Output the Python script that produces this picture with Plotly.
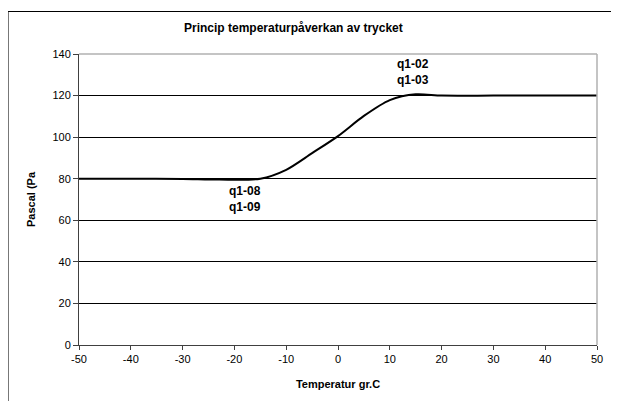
import plotly.graph_objects as go

# Data
temperature = [-50, -40, -30, -23, -15, -10, -5, 0, 5, 10, 15, 20, 30, 40, 50]
pascal = [80, 80, 79.9, 79.6, 80, 84.3, 92.3, 100.5, 110.2, 117.8, 120.6, 120, 120, 120, 120]

label_texts = ["q1-08<br>q1-09", "q1-02<br>q1-03"]
label_x = [-18, 14.5]
label_y = [80, 120]
label_anchor = ["top", "bottom"]
label_shift = [-3, 7]

x_ticks = [-50, -40, -30, -20, -10, 0, 10, 20, 30, 40, 50]
x_tick_labels = ["-50", "-40", "-30", "-20", "-10", "0", "10", "20", "30", "40", "50"]
y_ticks = [0, 20, 40, 60, 80, 100, 120, 140]

title_text = "Princip temperaturpåverkan av trycket"
x_title = "Temperatur gr.C"
y_title = "Pascal (Pa"

FONT = "Liberation Sans, Arial, sans-serif"

fig = go.Figure()
fig.add_trace(go.Scatter(
    x=temperature, y=pascal, mode="lines",
    line=dict(color="black", width=2, shape="spline", smoothing=0.8),
    hoverinfo="skip", showlegend=False,
))

for t, x, y, a, s in zip(label_texts, label_x, label_y, label_anchor, label_shift):
    fig.add_annotation(x=x, y=y, text="<b>" + t + "</b>", showarrow=False,
                       xanchor="center", yanchor=a, yshift=s,
                       font=dict(family=FONT, size=12, color="black"))

fig.add_annotation(xref="paper", yref="paper", x=0.415, y=1.0, yshift=26,
                   text="<b>" + title_text + "</b>", showarrow=False,
                   xanchor="center", yanchor="middle",
                   font=dict(family=FONT, size=12, color="black"))

# plot-area top/right border (gray)
fig.add_shape(type="line", xref="paper", yref="paper", x0=0, x1=1, y0=1, y1=1,
              line=dict(color="#b0b0b0", width=1.5))
fig.add_shape(type="line", xref="paper", yref="paper", x0=1, x1=1, y0=0, y1=1,
              line=dict(color="#b0b0b0", width=1.5))
# outer chart border (only its left and top edges fall inside the view)
fig.add_shape(type="line", xref="paper", yref="paper",
              x0=-0.137, x1=-0.137, y0=-0.5, y1=1.146,
              line=dict(color="black", width=1))
fig.add_shape(type="line", xref="paper", yref="paper",
              x0=-0.137, x1=1.5, y0=1.146, y1=1.146,
              line=dict(color="black", width=1))

fig.update_xaxes(
    range=[-50, 50], tickvals=x_ticks, ticktext=x_tick_labels,
    ticks="outside", ticklen=4,
    tickcolor="#404040", showline=True, linecolor="#404040", linewidth=1,
    showgrid=False, zeroline=False,
    tickfont=dict(family=FONT, size=11, color="black"),
    title=dict(text="<b>" + x_title + "</b>", standoff=16,
               font=dict(family=FONT, size=11, color="black")),
)
fig.update_yaxes(
    range=[0, 140], tickvals=y_ticks, ticks="outside", ticklen=5,
    tickcolor="#404040", showline=True, linecolor="#404040", linewidth=1,
    showgrid=True, gridcolor="black", gridwidth=1, zeroline=False,
    tickfont=dict(family=FONT, size=11, color="black"),
    title=dict(text="<b>" + y_title + "</b>", standoff=14,
               font=dict(family=FONT, size=11, color="black")),
)

fig.update_layout(
    width=611, height=393,
    margin=dict(l=71, r=22, t=46, b=53),
    paper_bgcolor="white", plot_bgcolor="white",
    showlegend=False,
)

fig.write_html("out.html")
